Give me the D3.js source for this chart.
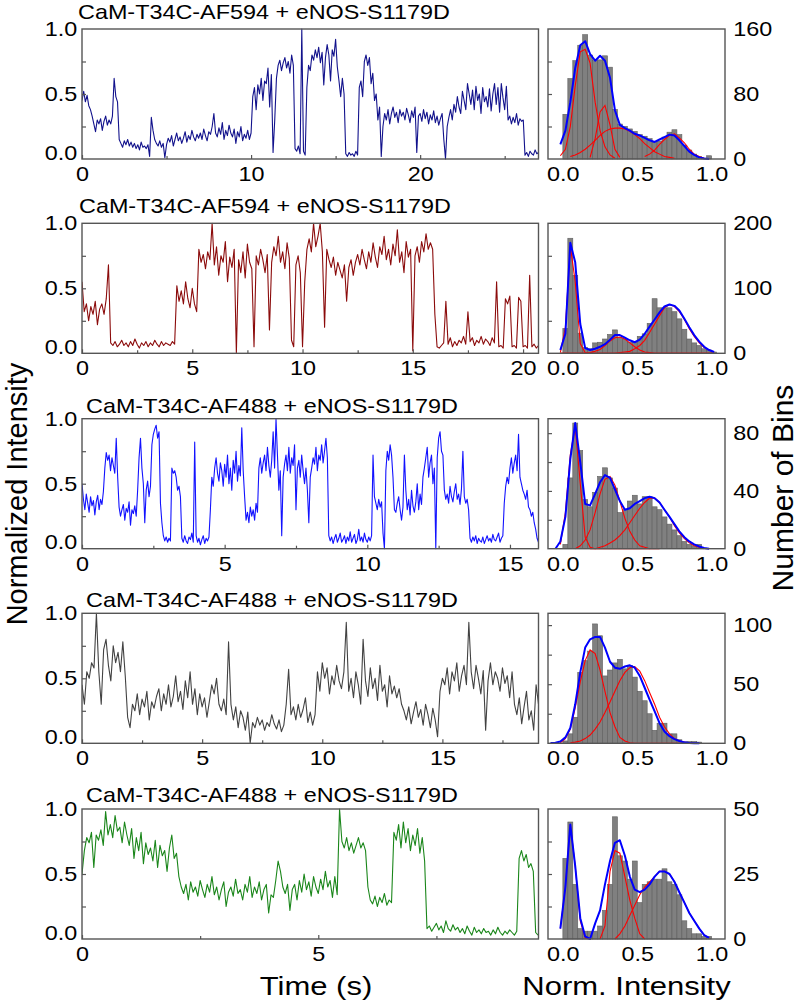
<!DOCTYPE html>
<html><head><meta charset="utf-8">
<script src="https://cdn.jsdelivr.net/npm/d3@7"></script>
<style>
body{margin:0;background:#fff}
svg{display:block}
text{font-family:"Liberation Sans",Arial,sans-serif;fill:#000}
</style>
</head><body>
<svg id="chart" width="800" height="1007"></svg>
<script>
// ---------------- DATA ----------------
const titles = ["CaM-T34C-AF594 + eNOS-S1179D","CaM-T34C-AF594 + eNOS-S1179D","CaM-T34C-AF488 + eNOS-S1179D","CaM-T34C-AF488 + eNOS-S1179D","CaM-T34C-AF488 + eNOS-S1179D"];
const traceColors = ["#12128c","#8b0b0b","#1212ff","#424242","#1a861a"];
const traceDurations = [27, 20.7, 16, 19, 9.66];
const traceSteps = [0.1, 0.1, 0.05, 0.1, 0.05];
const traceXLabels = [[0,10,20],[0,5,10,15,20],[0,5,10,15],[0,5,10,15],[0,5]];
const traceXMinor = [[5,15,25],[2.5,7.5,12.5,17.5],[2.5,7.5,12.5],[2.5,7.5,12.5,17.5],[2.5,7.5]];
const traceYLabels = [0, 0.5, 1];
const traceYMinor = [0.25, 0.5, 0.75];

const trace1 = [
0.45,0.52,0.44,0.49,0.41,0.38,0.33,0.27,0.21,0.30,
0.27,0.31,0.22,0.29,0.33,0.26,0.30,0.27,0.33,0.62,
0.48,0.44,0.15,0.12,0.09,0.14,0.11,0.15,0.10,0.13,
0.09,0.12,0.08,0.11,0.07,0.13,0.09,0.10,0.08,0.11,
0.02,0.32,0.22,0.15,0.12,0.10,0.14,0.09,0.12,0.01,
0.11,0.16,0.13,0.18,0.10,0.15,0.20,0.14,0.17,0.12,
0.16,0.21,0.13,0.18,0.15,0.22,0.17,0.14,0.19,0.16,
0.20,0.15,0.23,0.18,0.14,0.21,0.19,0.25,0.35,0.20,
0.17,0.24,0.19,0.28,0.15,0.22,0.18,0.26,0.20,0.17,
0.23,0.12,0.21,0.17,0.25,0.14,0.19,0.16,0.22,0.15,
0.20,0.48,0.55,0.38,0.57,0.50,0.62,0.45,0.60,0.58,
0.70,0.40,0.65,0.05,0.30,0.62,0.72,0.76,0.68,0.74,
0.78,0.70,0.75,0.66,0.80,0.72,0.08,0.06,0.10,0.04,
1.00,0.06,0.03,0.55,0.72,0.68,0.80,0.76,0.84,0.78,
0.86,0.74,0.82,0.57,0.78,0.88,0.80,0.60,0.84,0.79,
0.92,0.71,0.60,0.48,0.62,0.50,0.04,0.02,0.05,0.03,
0.04,0.02,0.06,0.03,0.55,0.60,0.48,0.75,0.80,0.72,
0.78,0.58,0.66,0.45,0.50,0.30,0.40,0.02,0.25,0.35,
0.30,0.38,0.27,0.35,0.40,0.32,0.36,0.28,0.38,0.33,
0.36,0.30,0.39,0.34,0.28,0.37,0.32,0.40,0.05,0.33,
0.35,0.29,0.38,0.31,0.36,0.27,0.34,0.30,0.37,0.28,
0.33,0.26,0.31,0.35,0.15,0.00,0.25,0.32,0.38,0.30,
0.42,0.36,0.48,0.40,0.35,0.52,0.45,0.38,0.58,0.50,
0.42,0.53,0.38,0.56,0.45,0.50,0.35,0.55,0.44,0.48,
0.40,0.54,0.37,0.50,0.58,0.42,0.55,0.36,0.58,0.47,
0.38,0.56,0.30,0.33,0.27,0.32,0.28,0.35,0.26,0.31,
0.29,0.30,0.03,0.05,0.02,0.06,0.04,0.03,0.07,0.04,0.05];

const trace2 = [
0.55,0.32,0.38,0.25,0.36,0.30,0.40,0.22,0.34,0.38,
0.30,0.42,0.68,0.08,0.06,0.09,0.05,0.07,0.10,0.06,
0.08,0.05,0.09,0.06,0.11,0.07,0.04,0.08,0.06,0.09,
0.05,0.08,0.06,0.10,0.07,0.05,0.09,0.06,0.08,0.07,
0.06,0.09,0.07,0.52,0.40,0.48,0.38,0.55,0.42,0.35,
0.50,0.38,0.32,0.80,0.70,0.76,0.65,0.78,0.72,1.00,
0.68,0.82,0.60,0.75,0.70,0.86,0.55,0.74,0.66,0.80,
0.00,0.72,0.62,0.78,0.58,0.84,0.70,0.65,0.05,0.75,
0.68,0.80,0.72,0.62,0.76,0.18,0.70,0.82,0.75,0.90,
0.70,0.78,0.65,0.85,0.73,0.10,0.05,0.68,0.75,0.62,
0.05,0.55,0.80,0.88,0.78,1.00,0.82,0.90,1.00,0.78,
0.20,0.80,0.72,0.66,0.74,0.60,0.70,0.64,0.58,0.68,
0.40,0.66,0.72,0.60,0.70,0.76,0.68,0.80,0.72,0.65,
0.78,0.70,0.85,0.74,0.66,0.82,0.76,0.90,0.72,0.80,
0.68,0.84,0.75,0.95,0.70,0.78,0.62,0.86,0.74,0.80,
0.02,0.75,0.82,0.70,0.86,0.78,0.92,0.80,0.85,0.80,
0.30,0.05,0.04,0.06,0.08,0.40,0.07,0.12,0.05,0.09,
0.06,0.10,0.08,0.13,0.07,0.32,0.09,0.12,0.06,0.10,
0.08,0.13,0.07,0.11,0.09,0.06,0.12,0.08,0.55,0.05,
0.06,0.04,0.42,0.38,0.44,0.05,0.06,0.04,0.43,0.40,
0.05,0.06,0.04,0.60,0.05,0.07,0.04,0.06];

const trace3 = [
0.50,0.38,0.30,0.42,0.35,0.28,0.40,0.33,0.37,0.26,0.36,0.41,0.30,0.38,0.34,0.44,0.62,0.74,0.68,0.72,
0.60,0.70,0.64,0.58,0.85,0.55,0.32,0.25,0.30,0.34,0.22,0.31,0.28,0.36,0.18,0.30,0.27,0.33,0.25,0.45,
0.70,0.85,0.62,0.50,0.20,0.45,0.52,0.40,0.48,0.80,0.88,0.92,0.95,0.85,0.90,0.35,0.20,0.10,0.06,0.09,
0.05,0.08,0.06,0.62,0.58,0.60,0.55,0.45,0.48,0.40,0.08,0.05,0.10,0.06,0.04,0.09,0.07,0.12,0.05,0.82,
0.10,0.05,0.08,0.03,0.07,0.10,0.04,0.08,0.06,0.09,0.30,0.55,0.48,0.62,0.70,0.58,0.52,0.66,0.60,0.48,
0.65,0.55,0.72,0.50,0.62,0.45,0.68,0.58,0.75,0.52,0.64,0.56,0.93,0.60,0.40,0.22,0.28,0.20,0.32,0.25,
0.30,0.22,0.35,0.28,0.62,0.70,0.58,0.66,0.72,0.60,0.78,0.64,0.55,0.68,0.90,0.62,1.00,0.72,0.45,0.60,
0.10,0.55,0.65,0.72,0.60,0.78,0.58,0.70,0.64,0.80,0.30,0.62,0.68,0.55,0.72,0.60,0.50,0.62,0.45,0.20,
0.55,0.62,0.70,0.65,0.78,0.60,0.72,0.68,0.80,0.66,0.75,0.85,0.70,0.10,0.06,0.09,0.04,0.08,0.11,0.05,
0.08,0.12,0.05,0.07,0.10,0.04,0.09,0.06,0.13,0.05,0.08,0.11,0.04,0.07,0.15,0.06,0.09,0.05,0.12,0.07,
0.05,0.09,0.06,0.10,0.72,0.40,0.35,0.30,0.38,0.32,0.36,0.12,0.00,0.60,0.75,0.68,0.80,0.72,0.55,0.30,
0.28,0.35,0.40,0.30,0.22,0.32,0.72,0.45,0.30,0.38,0.26,0.45,0.33,0.28,0.36,0.50,0.30,0.42,0.34,0.55,
0.62,0.70,0.78,0.55,0.66,0.72,0.50,0.62,0.00,0.70,0.85,0.90,0.75,0.72,0.45,0.38,0.42,0.35,0.48,0.40,
0.36,0.44,0.50,0.38,0.42,0.34,0.46,0.75,0.40,0.35,0.38,0.30,0.08,0.05,0.09,0.06,0.10,0.04,0.08,0.06,
0.05,0.09,0.04,0.07,0.10,0.06,0.08,0.05,0.11,0.07,0.06,0.09,0.12,0.05,0.08,0.10,0.35,0.48,0.55,0.50,
0.62,0.70,0.58,0.66,0.72,0.60,0.88,0.55,0.50,0.45,0.42,0.38,0.45,0.32,0.30,0.25,0.28,0.20,0.15,0.08,0.05];

const trace4 = [
0.45,0.30,0.55,0.50,0.62,0.58,1.00,0.55,0.30,0.72,
0.80,0.60,0.48,0.75,0.62,0.70,0.55,0.78,0.52,0.20,
0.12,0.30,0.25,0.38,0.22,0.34,0.28,0.40,0.18,0.32,
0.27,0.36,0.42,0.25,0.38,0.30,0.45,0.28,0.36,0.52,
0.32,0.40,0.26,0.48,0.35,0.55,0.30,0.42,0.22,0.38,
0.28,0.35,0.20,0.32,0.45,0.38,0.50,0.30,0.25,0.34,
0.22,0.78,0.30,0.18,0.28,0.12,0.25,0.20,0.10,0.24,
0.00,0.16,0.12,0.20,0.14,0.18,0.10,0.16,0.13,0.22,
0.15,0.11,0.18,0.09,0.14,0.30,0.57,0.22,0.28,0.18,
0.30,0.20,0.26,0.35,0.16,0.24,0.14,0.22,0.55,0.40,
0.62,0.50,0.58,0.38,0.52,0.45,0.60,0.48,0.42,0.55,
0.93,0.40,0.50,0.35,0.55,0.45,0.30,0.80,0.48,0.36,
0.58,0.42,0.50,0.33,0.60,0.40,0.45,0.28,0.52,0.38,
0.44,0.35,0.42,0.30,0.25,0.18,0.28,0.15,0.24,0.32,
0.20,0.26,0.14,0.30,0.22,0.12,0.27,0.18,0.05,0.40,
0.50,0.45,0.58,0.38,0.55,0.48,0.62,0.40,0.52,0.60,
0.45,0.93,0.55,0.42,0.60,0.50,0.38,0.56,0.10,0.48,
0.62,0.45,0.55,0.50,0.40,0.58,0.46,0.52,0.35,0.55,
0.30,0.22,0.35,0.15,0.28,0.40,0.18,0.25,0.10,0.45,0.30];

const trace5 = [
0.50,0.68,0.78,0.74,0.82,0.55,0.80,0.76,0.84,0.72,
0.98,0.80,0.88,0.78,0.95,0.83,0.86,0.74,0.90,0.80,
0.72,0.85,0.62,0.78,0.68,0.82,0.58,0.74,0.65,0.70,
0.60,0.76,0.55,0.72,0.64,0.68,0.52,0.70,0.80,0.62,
0.66,0.48,0.40,0.35,0.42,0.30,0.44,0.36,0.40,0.33,
0.45,0.38,0.32,0.42,0.36,0.48,0.34,0.40,0.30,0.38,
0.44,0.25,0.36,0.40,0.33,0.46,0.35,0.38,0.30,0.42,
0.36,0.48,0.32,0.40,0.35,0.44,0.30,0.38,0.42,0.20,
0.34,0.32,0.45,0.60,0.52,0.40,0.35,0.42,0.22,0.38,
0.42,0.30,0.45,0.36,0.50,0.38,0.44,0.33,0.48,0.40,
0.35,0.46,0.38,0.52,0.40,0.45,0.32,0.48,0.34,1.00,
0.75,0.70,0.78,0.68,0.74,0.66,0.72,0.78,0.70,0.74,
0.68,0.40,0.30,0.27,0.33,0.25,0.32,0.28,0.35,0.26,
0.30,0.28,0.82,0.76,0.88,0.70,0.90,0.74,0.85,0.68,
0.80,0.72,0.85,0.66,0.78,0.60,0.08,0.10,0.06,0.09,
0.12,0.07,0.10,0.05,0.14,0.08,0.06,0.11,0.07,0.09,
0.05,0.08,0.04,0.10,0.06,0.03,0.09,0.05,0.07,0.04,
0.08,0.05,0.06,0.03,0.07,0.04,0.09,0.05,0.03,0.06,
0.04,0.07,0.05,0.03,0.06,0.62,0.68,0.60,0.65,0.55,
0.58,0.52,0.05,0.03];

const traces = [trace1, trace2, trace3, trace4, trace5];

// Histograms: counts per bin of width 1/30, starting at 0
const binWidth = 1/30;
const hist1 = [55,99,121,140,153,128,121,122,127,113,61,43,40,37,34,30,28,25,21,22,27,33,36,30,17,11,6,3,1,4,0];
const hist2 = [38,177,120,31,9,7,16,17,22,29,36,24,22,17,18,26,30,46,84,70,70,70,64,53,37,22,16,12,7,5,2];
const hist3 = [3,49,87,68,34,29,39,50,56,49,42,25,27,33,37,31,36,36,29,27,22,17,13,9,5,3,2,3,0,0,0];
const hist4 = [2,8,22,60,70,78,101,91,57,62,68,71,63,66,56,44,36,25,11,17,17,8,8,3,1,1.5,1.5,0,1,0,0];
const hist5 = [31,45,21,4,3,3,3,5,11,21,47,32,30,23,30,14,21,22,23,23,27,22,21,17,7,4,2,2,1,1,0];
const hists = [hist1, hist2, hist3, hist4, hist5];
const histYMax = [160, 200, 90, 110, 50];
const histYLabels = [[0,80,160],[0,100,200],[0,40,80],[0,50,100],[0,25,50]];
const histYTicks = [[40,80,120],[50,100,150],[20,40,60,80],[25,50,75,100],[12.5,25,37.5]];
const histXLabels = [0, 0.5, 1];

// Gaussian fit curves sampled at bin centres (grid shared by all panels)
const fitGrid = [-0.083,-0.050,-0.017,0.017,0.050,0.083,0.117,0.150,0.183,0.217,0.250,0.283,0.317,0.350,0.383,0.417,0.450,0.483,0.517,0.550,0.583,0.617,0.650,0.683,0.717,0.750,0.783,0.817,0.850,0.883,0.917,0.950,0.983,1.017];
const _ = null;
const fitBlue1 = [_,_,18,35,70,112,140,145,129,121,127,121,100,60,42,38,35,31,29,26,23,21,24,27,30,29,23,16,9,5,2,0.5,0,_];
const fitRed1 = [
 [_,_,4,12,40,90,132,135,118,70,35,15,5,1,_,_,_,_,_,_,_,_,_,_,_,_,_,_,_,_,_,_,_,_],
 [_,_,_,_,_,_,_,_,2,25,58,66,42,12,2,_,_,_,_,_,_,_,_,_,_,_,_,_,_,_,_,_,_,_],
 [_,_,_,_,3,5,8,12,17,23,29,34,37,38,38,37,34,30,25,19,14,9,6,3,2,1,_,_,_,_,_,_,_,_],
 [_,_,_,_,_,_,_,_,_,_,_,_,_,_,_,_,_,_,_,3,6,11,18,24,29,31,26,20,12,6,3,1,_,_]];
const fitBlue2 = [_,_,5,30,170,140,45,8,5,7,10,14,21,28,28,24,20,17,21,30,41,52,63,72,75,73,66,53,40,28,18,10,5,2];
const fitRed2 = [
 [_,_,1,40,165,110,15,1,0,0,0,0,0,0,0,0,0,0,0,0,0,0,0,0,0,0,0,0,0,0,0,0,0,0],
 [_,_,0,0,0,0,0,0,1,3,6,12,19,24,25,22,16,10,5,2,1,0,0,0,0,0,0,0,0,0,0,0,0,0],
 [_,_,0,0,0,0,0,0,0,0,0,0,0,0,1,2,3,7,12,20,32,45,58,70,75,72,64,52,38,26,16,9,5,2]];
const fitBlue3 = [_,0,5,22,62,87,60,31,30,38,46,51,49,41,33,27,28,31,33,35,36,35,32,27,22,17,12,8,5,3,1.5,0.5,0,_];
const fitRed3 = [
 [_,_,3,25,65,85,45,8,1,0,0,0,0,0,0,0,0,0,0,0,0,_,_,_,_,_,_,_,_,_,_,_,_,_],
 [_,_,_,_,_,0,2,6,13,25,38,48,50,44,33,21,12,6,2,1,0,0,0,_,_,_,_,_,_,_,_,_,_,_],
 [_,_,_,_,_,_,_,_,0,0,1,2,4,6,9,13,18,23,28,32,35,35,32,27,22,16,11,7,4,2,1,0,_,_]];
const fitBlue4 = [0.2,0.5,1.5,5,13,33,60,81,88,90,90,81,69,64,63,65,66,64,57,47,37,27,17,10,6,3.5,2,0.8,0.3,0,0,_,_,_];
const fitRed4 = [
 [_,_,0.5,4,12,30,52,70,79,76,62,44,26,14,5,2,0.5,0,0,0,0,0,0,0,0,0,0,0,0,_,_,_,_,_],
 [_,_,_,_,0.5,1,2,4,7,12,18,26,35,44,53,60,64,65,61,53,43,33,22,14,8,4,2,1,0.3,0,_,_,_,_]];
const fitBlue5 = [_,_,4,20,44,28,8,1,0,6,11,21,30,37,38,32,24,19,18,19,21,24,26,26,25,22,18,14,10,7,4,1.5,0.4,_];
const fitRed5 = [
 [_,_,4,20,44,28,7,0.5,0,_,_,_,_,_,_,_,_,_,_,_,_,_,_,_,_,_,_,_,_,_,_,_,_,_],
 [_,_,_,_,_,_,_,_,_,_,0,5,26,34,33,24,15,8,2,0,_,_,_,_,_,_,_,_,_,_,_,_,_,_],
 [_,_,_,_,_,_,_,_,_,_,_,_,_,0,2,5,9,13,17,20,22,24,26,26,25,22,18,14,10,7,4,1.5,0.4,_]];
const fitBlues = [fitBlue1, fitBlue2, fitBlue3, fitBlue4, fitBlue5];
const fitReds = [fitRed1, fitRed2, fitRed3, fitRed4, fitRed5];

// ---------------- LAYOUT ----------------
const SX = 1.17;              // horizontal stretch of the lettering in the reference
const FONT = "'Liberation Sans', Arial, sans-serif";
const panelTops = [29, 223.3, 418.7, 613.3, 809];
const PH = 130;
const TX0 = 82, TX1 = 538.5, HX0 = 548, HX1 = 725;
const titleX = [78, 79, 86, 86, 86];
const titleDy = [-10.5, -10, -5.5, -6.5, -7.3];
const frameColor = "#555";

const svg = d3.select("#chart");
const defs = svg.append("defs");

function txt(g, x, y, s, size, anchor, sx) {
  return g.append("text")
    .attr("transform", `translate(${x},${y}) scale(${sx},1)`)
    .attr("text-anchor", anchor).attr("font-size", size)
    .attr("font-family", FONT).text(s);
}
function styleAxis(sel) {
  sel.attr("font-size", null).attr("font-family", null);
  sel.select(".domain").remove();
  sel.selectAll("line").attr("stroke", frameColor).attr("stroke-width", 1.2);
  sel.selectAll("text").attr("font-size", 20).attr("font-family", FONT)
     .attr("fill", "#000").attr("transform", `scale(${SX},1)`);
}

panelTops.forEach((top, p) => {
  const bottom = top + PH;
  const g = svg.append("g");

  // ---- trace panel ----
  const x = d3.scaleLinear().domain([0, traceDurations[p]]).range([TX0, TX1]);
  const y = d3.scaleLinear().domain([0, 1]).range([bottom, top]);
  const cid = "clipT" + p;
  defs.append("clipPath").attr("id", cid).append("rect")
      .attr("x", TX0).attr("y", top - 1).attr("width", TX1 - TX0).attr("height", PH + 2);
  const data = traces[p];
  const step = traceSteps[p];
  const line = d3.line().x((d, i) => x(i * step)).y(d => y(d));
  g.append("path").datum(data).attr("clip-path", `url(#${cid})`)
    .attr("d", line).attr("fill", "none").attr("stroke", traceColors[p])
    .attr("stroke-width", 1.1).attr("stroke-linejoin", "round");

  // axes
  const xb = g.append("g").attr("transform", `translate(0,${bottom})`)
    .call(d3.axisBottom(x).tickValues(traceXLabels[p]).tickSize(-4).tickPadding(8).tickFormat(d3.format("d")));
  styleAxis(xb);
  const xm = g.append("g").attr("transform", `translate(0,${bottom})`)
    .call(d3.axisBottom(x).tickValues(traceXMinor[p]).tickSize(-3).tickFormat(""));
  styleAxis(xm);
  const yl = g.append("g").attr("transform", `translate(${TX0},0)`)
    .call(d3.axisLeft(y).tickValues(traceYLabels).tickSize(0).tickPadding(4).tickFormat(d3.format(".1f")));
  styleAxis(yl);
  yl.selectAll("text").attr("dy", d => d === 0 ? "0em" : "0.33em");
  const ym = g.append("g").attr("transform", `translate(${TX0},0)`)
    .call(d3.axisLeft(y).tickValues(traceYMinor).tickSize(-4).tickFormat(""));
  styleAxis(ym);
  g.append("rect").attr("x", TX0).attr("y", top).attr("width", TX1 - TX0).attr("height", PH)
    .attr("fill", "none").attr("stroke", frameColor).attr("stroke-width", 1.4);

  txt(g, titleX[p], top + titleDy[p], titles[p], 20, "start", SX);

  // ---- histogram panel ----
  const hx = d3.scaleLinear().domain([-0.1, 1.09]).range([HX0, HX1]);
  const hy = d3.scaleLinear().domain([0, histYMax[p]]).range([bottom, top]);
  const counts = hists[p];
  g.append("g").selectAll("rect").data(counts).join("rect")
    .filter(d => d > 0)
    .attr("x", (d, i) => hx(i * binWidth))
    .attr("width", (d, i) => hx((i + 1) * binWidth) - hx(i * binWidth))
    .attr("y", d => hy(d)).attr("height", d => hy(0) - hy(d))
    .attr("fill", "#808080").attr("stroke", "#5e5e5e").attr("stroke-width", 0.6);

  const fitLine = d3.line().defined(d => d[1] !== null)
    .x(d => hx(d[0])).y(d => hy(d[1]));
  fitReds[p].forEach(r => {
    g.append("path").datum(fitGrid.map((gx, i) => [gx, r[i]]))
      .attr("d", fitLine).attr("fill", "none").attr("stroke", "#ff0000").attr("stroke-width", 1.1);
  });
  g.append("path").datum(fitGrid.map((gx, i) => [gx, fitBlues[p][i]]))
    .attr("d", fitLine).attr("fill", "none").attr("stroke", "#0000ff")
    .attr("stroke-width", 2).attr("stroke-linejoin", "round");

  const hb = g.append("g").attr("transform", `translate(0,${bottom})`)
    .call(d3.axisBottom(hx).tickValues(histXLabels).tickSize(0).tickPadding(8).tickFormat(d3.format(".1f")));
  styleAxis(hb);
  const hl = g.append("g").attr("transform", `translate(${HX0},0)`)
    .call(d3.axisLeft(hy).tickValues(histYTicks[p]).tickSize(-4).tickFormat(""));
  styleAxis(hl);
  const hr = g.append("g").attr("transform", `translate(${HX1},0)`)
    .call(d3.axisRight(hy).tickValues(histYLabels[p]).tickSize(0).tickPadding(7).tickFormat(d3.format("d")));
  styleAxis(hr);
  g.append("rect").attr("x", HX0).attr("y", top).attr("width", HX1 - HX0).attr("height", PH)
    .attr("fill", "none").attr("stroke", frameColor).attr("stroke-width", 1.4);
});

// axis titles
txt(svg, 316, 995, "Time (s)", 26.5, "middle", SX);
txt(svg, 626.5, 995, "Norm. Intensity", 26.5, "middle", SX);
svg.append("text")
  .attr("transform", "translate(27,494) rotate(-90)")
  .attr("text-anchor", "middle").attr("font-size", 29).attr("font-family", FONT)
  .text("Normalized Intensity");
svg.append("text")
  .attr("transform", "translate(793,488) rotate(-90)")
  .attr("text-anchor", "middle").attr("font-size", 30).attr("font-family", FONT)
  .text("Number of Bins");
</script>
</body></html>
